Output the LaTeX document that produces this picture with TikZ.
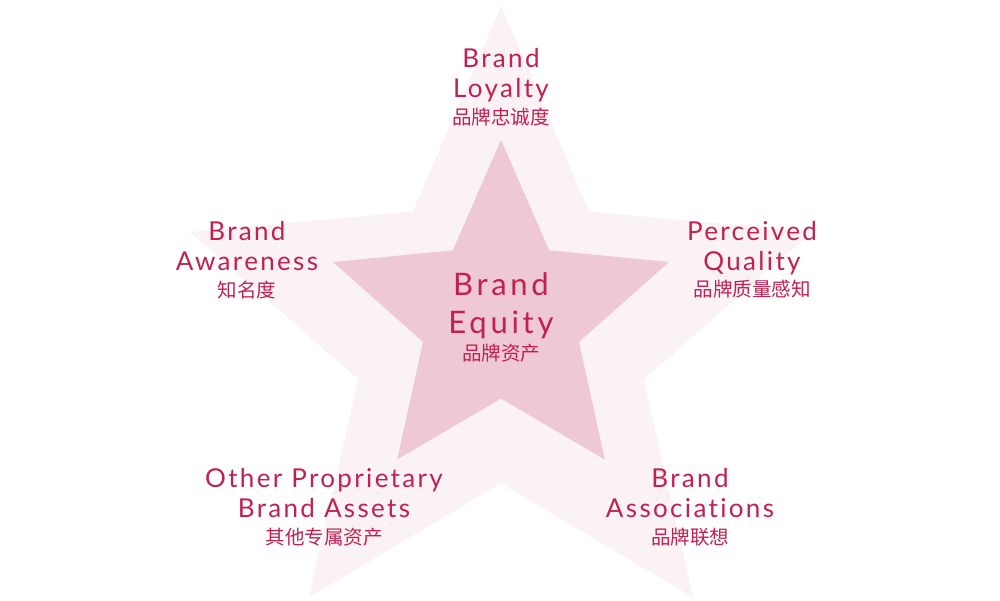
\documentclass[tikz,border=0pt]{standalone}
\usepackage{fontspec}
\setmainfont{Lato}
\newfontfamily\entxt[LetterSpace=9, Ligatures=NoCommon]{Lato}
\newfontfamily\bigtxt[LetterSpace=12, Ligatures=NoCommon]{Lato}
\newfontfamily\cjk{Noto Sans CJK SC}
\usetikzlibrary{positioning}
\definecolor{brandred}{RGB}{193,32,82}
\definecolor{outerpink}{RGB}{250,242,245}
\definecolor{innerpink}{RGB}{238,200,212}

\begin{document}
\begin{tikzpicture}
  [x=1pt, y=-1pt,
  engtext/.style={text=brandred, inner sep=0pt, align=center, font=\entxt\fontsize{26}{30}\selectfont},
  bigtext/.style={text=brandred, inner sep=0pt, align=center, font=\bigtxt\fontsize{31}{38}\selectfont},
  zhtext/.style={text=brandred, inner sep=0pt, font=\cjk\fontsize{19.5}{22}\selectfont}]

\useasboundingbox (0,0) rectangle (1000,600);

% Outer and inner star
\fill[outerpink, shift={(501,333)}] (-90:327)
  \foreach \k in {1,...,9} { -- ({-90+36*\k}:{ifthenelse(isodd(\k),150,327)}) } -- cycle;
\fill[innerpink, shift={(501,316.6)}] (-90:176.6)
  \foreach \k in {1,...,9} { -- ({-90+36*\k}:{ifthenelse(isodd(\k),82,176.6)}) } -- cycle;

% Centre label
\node[bigtext] (equity) at (501,306) {Brand\\Equity};
\node[zhtext, below=10pt of equity.base] (equityzh) {品牌资产};

% Labels round the star
\node[engtext] (loyalty) at (501,75) {Brand\\Loyalty};
\node[zhtext, below=10pt of loyalty.base] (loyaltyzh) {品牌忠诚度};

\node[engtext] (awareness) at (247,246) {Brand\\Awareness};
\node[zhtext, below=10pt of awareness.base] (awarenesszh) {知名度};

\node[engtext] (quality) at (752,248) {Perceived\\Quality};
\node[zhtext, below=10pt of quality.base] (qualityzh) {品牌质量感知};

\node[engtext] (assets) at (324,493) {Other Proprietary\\Brand Assets};
\node[zhtext, below=10pt of assets.base] (assetszh) {其他专属资产};

\node[engtext] (associations) at (690,493) {Brand\\Associations};
\node[zhtext, below=10pt of associations.base] (associationszh) {品牌联想};

\end{tikzpicture}
\end{document}
